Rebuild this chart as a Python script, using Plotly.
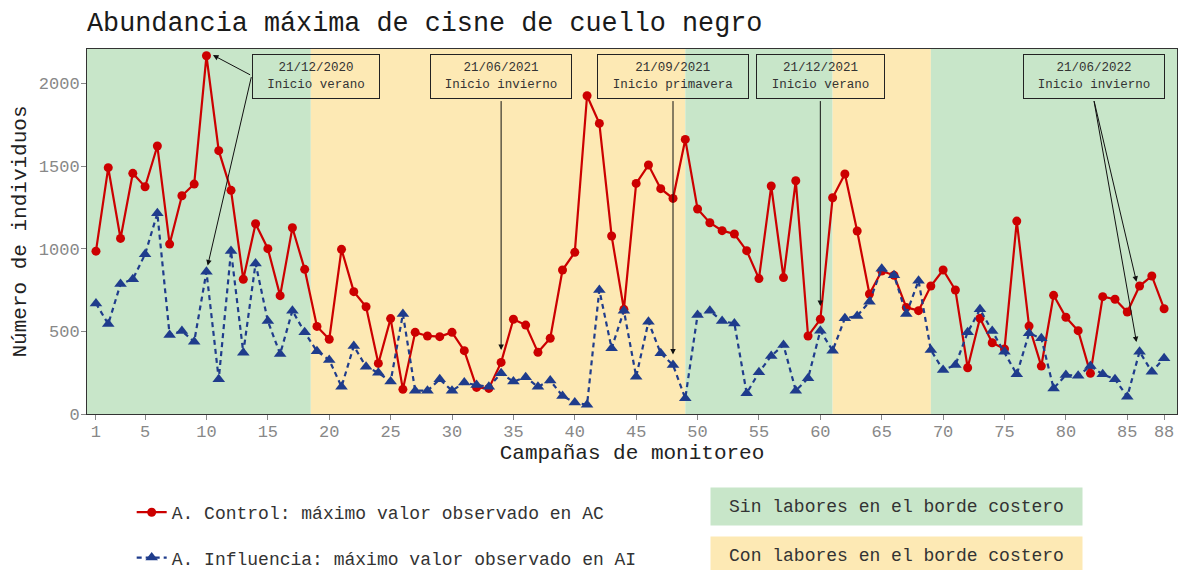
import plotly.graph_objects as go

# datos
campaigns = list(range(1, 89))
control_max = [985, 1490, 1062, 1456, 1375, 1621, 1028, 1320, 1391, 2167,
               1593, 1353, 815, 1151, 1000, 716, 1127, 875, 530, 452,
               996, 740, 649, 306, 577, 149, 494, 472, 468, 494,
               383, 161, 155, 312, 573, 538, 373, 458, 871, 978,
               1925, 1758, 1077, 633, 1395, 1506, 1363, 1304, 1661, 1240,
               1157, 1109, 1089, 988, 819, 1379, 825, 1411, 472, 573,
               1308, 1452, 1107, 726, 865, 839, 645, 625, 774, 871,
               750, 280, 579, 431, 393, 1167, 532, 290, 718, 585,
               504, 246, 710, 694, 617, 774, 835, 637]
influence_max = [669, 544, 786, 815, 966, 1214, 478, 502, 437, 861,
                 210, 986, 371, 911, 562, 363, 625, 494, 380, 327,
                 165, 411, 286, 250, 196, 605, 141, 141, 210, 141,
                 190, 175, 165, 246, 196, 222, 165, 202, 109, 69,
                 56, 750, 397, 625, 226, 558, 367, 296, 95, 599,
                 625, 562, 548, 125, 252, 351, 417, 141, 216, 504,
                 383, 579, 593, 679, 879, 839, 605, 806, 387, 266,
                 296, 494, 633, 502, 377, 240, 488, 458, 155, 236,
                 232, 290, 240, 210, 105, 377, 256, 337]

# periodos con / sin labores (límites en campañas)
period_edges = [0.27, 18.5, 49, 61, 69, 89.05]
period_kind = ["sin", "con", "sin", "con", "sin"]

season_dates = ["21/12/2020", "21/06/2021", "21/09/2021", "21/12/2021", "21/06/2022"]
season_names = ["Inicio verano", "Inicio invierno", "Inicio primavera", "Inicio verano", "Inicio invierno"]

GREEN = "#c8e6c9"
YELLOW = "#fde9b4"
RED = "#cc0000"
BLUE = "#1f3c8c"
FONT = "Liberation Mono"

fig = go.Figure()

fig.add_trace(go.Scatter(
    x=campaigns, y=control_max, mode="lines+markers",
    name="A. Control: máximo valor observado en AC", legendgroup="c",
    line=dict(color=RED, width=2.2),
    marker=dict(symbol="circle", size=9, color=RED),
))
fig.add_trace(go.Scatter(
    x=campaigns, y=influence_max, mode="lines+markers",
    name="A. Influencia: máximo valor observado en AI", legendgroup="i",
    line=dict(color=BLUE, width=2.2, dash="5px,4px"),
    marker=dict(symbol="triangle-up", size=11, color=BLUE),
))

for x0, x1, kind in zip(period_edges[:-1], period_edges[1:], period_kind):
    fig.add_shape(type="rect", xref="x", yref="paper", x0=x0, x1=x1, y0=0, y1=1,
                  fillcolor=GREEN if kind == "sin" else YELLOW, line_width=0, layer="below")

# cajas de estaciones: centro x y ancho en px
box_x = [18.9, 34.0, 48.0, 60.0, 82.3]
box_w = [128, 142, 152, 129, 142]
for bx, bw, d, n in zip(box_x, box_w, season_dates, season_names):
    fig.add_annotation(x=bx, y=2040, xref="x", yref="y", text=f"{d}<br>{n}",
                       showarrow=False, width=bw - 2, height=43, borderpad=0,
                       bordercolor="#222", borderwidth=1,
                       font=dict(family=FONT, size=12.5, color="#333"))

# flechas: (cola x, cola y, punta x, punta y)
arrows = [
    (13.68, 2047, 10.53, 2171),
    (13.68, 2047, 10.1, 898),
    (34.0, 1902, 34.0, 387),
    (48.0, 1902, 48.0, 360),
    (60.0, 1902, 60.0, 654),
    (82.27, 1902, 85.75, 800),
    (82.27, 1902, 85.75, 435),
]
for ax, ay, tx, ty in arrows:
    fig.add_annotation(x=tx, y=ty, ax=ax, ay=ay, xref="x", yref="y", axref="x", ayref="y",
                       text="", showarrow=True, arrowhead=2, arrowsize=1.1,
                       arrowwidth=1, arrowcolor="#111", standoff=0)

# leyenda de periodos
for txt, col, yc in [("Sin labores en el borde costero", GREEN, -0.2527),
                     ("Con labores en el borde costero", YELLOW, -0.3866)]:
    fig.add_annotation(x=0.7427, y=yc, xref="paper", yref="paper", text=txt,
                       xanchor="center", yanchor="middle",
                       showarrow=False, width=371, height=37, borderpad=0,
                       bgcolor=col, font=dict(family=FONT, size=18, color="#333"))

fig.update_layout(
    width=1179, height=570,
    margin=dict(l=87, r=2, t=49, b=156),
    paper_bgcolor="white", plot_bgcolor="white",
    font=dict(family=FONT, color="#333"),
    title=dict(text="Abundancia máxima de cisne de cuello negro",
               x=0, xref="paper", xanchor="left", y=0.962, yanchor="middle",
               font=dict(family=FONT, size=26.8, color="#1a1a1a")),
    showlegend=True,
    legend=dict(x=0.041, y=0.1333, xref="paper", yref="container",
                xanchor="left", yanchor="top",
                orientation="v", traceorder="grouped", tracegroupgap=19,
                bgcolor="rgba(0,0,0,0)", font=dict(family=FONT, size=18, color="#333")),
)
fig.update_xaxes(range=[0.27, 89.05], tickvals=[1, 5, 10, 15, 20, 25, 30, 35, 40, 45, 50, 55, 60, 65, 70, 75, 80, 85, 88],
                 ticks="outside", ticklen=5, tickcolor="#888", showgrid=False, zeroline=False,
                 showline=True, linecolor="#333", linewidth=1, mirror=True, automargin=False,
                 ticklabelstandoff=-3,
                 tickfont=dict(family=FONT, size=17, color="#888"),
                 title=dict(text="Campañas de monitoreo", standoff=0,
                            font=dict(family=FONT, size=21, color="#222")))
fig.update_yaxes(range=[0, 2208], tickvals=[0, 500, 1000, 1500, 2000],
                 ticks="outside", ticklen=5, tickcolor="#888", showgrid=False, zeroline=False,
                 showline=True, linecolor="#333", linewidth=1, mirror=True, automargin=False,
                 ticklabelstandoff=-2,
                 tickfont=dict(family=FONT, size=17, color="#888"),
                 title=dict(text="Número de individuos", standoff=6,
                            font=dict(family=FONT, size=21, color="#222")))

fig.write_html("out.html", config={"displayModeBar": False},
               post_script="document.body.style.margin='0';")
